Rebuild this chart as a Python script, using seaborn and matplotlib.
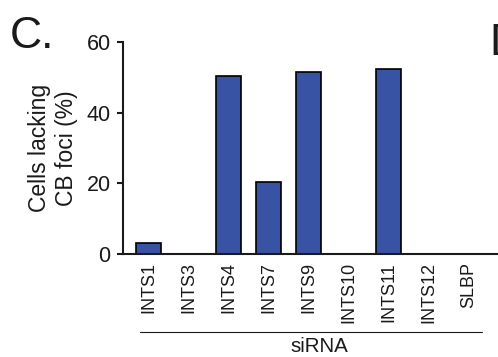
import matplotlib
matplotlib.use("Agg")
import pandas as pd
from matplotlib import pyplot as plt
from matplotlib.lines import Line2D
import seaborn as sns

# data
sirna = ['INTS1', 'INTS3', 'INTS4', 'INTS7', 'INTS9', 'INTS10', 'INTS11', 'INTS12', 'SLBP']
lacking_pct = [3.0, 0.0, 50.5, 20.5, 51.5, 0.0, 52.5, 0.0, 0.0]
y_ticks = [0, 20, 40, 60]

df = pd.DataFrame({'siRNA': sirna, 'pct': lacking_pct})

sns.set_style('ticks')
plt.rcParams['font.family'] = ['Liberation Sans', 'DejaVu Sans']

W, H = 498, 357
fig = plt.figure(figsize=(W / 100, H / 100), dpi=100)
ax = fig.add_axes([123 / W, 1 - 254 / H, 1 - 123 / W, (254 - 42) / H])

sns.barplot(data=df, x='siRNA', y='pct', ax=ax, color='#3953a4',
            saturation=1, edgecolor='black', linewidth=1.2, width=0.625)

ax.set_xlim(-0.65, 8.73)
ax.set_ylim(0, 60)
ax.set_yticks(y_ticks)
sns.despine(ax=ax)
for s in ['left', 'bottom']:
    ax.spines[s].set_linewidth(1.5)
    ax.spines[s].set_color('#1a1a1a')

ax.tick_params(axis='y', labelsize=15.5, length=4.5, width=1.5, pad=4.5, colors='#1a1a1a')
ax.tick_params(axis='x', labelsize=13, length=0, pad=6, rotation=90, colors='#1a1a1a')

ax.set_xlabel('')
ax.set_ylabel('Cells lacking\nCB foci (%)', fontsize=16.5, color='#1a1a1a')
ax.yaxis.set_label_coords(-0.12, 0.5)

# bracket line and group label under the tick labels
fig.add_artist(Line2D([140 / W, 482 / W], [1 - 332 / H, 1 - 332 / H],
                      color='#1a1a1a', linewidth=0.8))
fig.text(319 / W, 1 - 347 / H, 'siRNA', ha='center', va='center',
         fontsize=14.8, color='#1a1a1a')

# panel letters
fig.text(10 / W, 1 - 48 / H, 'C.', ha='left', va='baseline', fontsize=32, color='#1a1a1a')
fig.text(489 / W, 1 - 55 / H, 'D', ha='left', va='baseline', fontsize=32, color='#1a1a1a')

fig.savefig('out.png', dpi=100)
